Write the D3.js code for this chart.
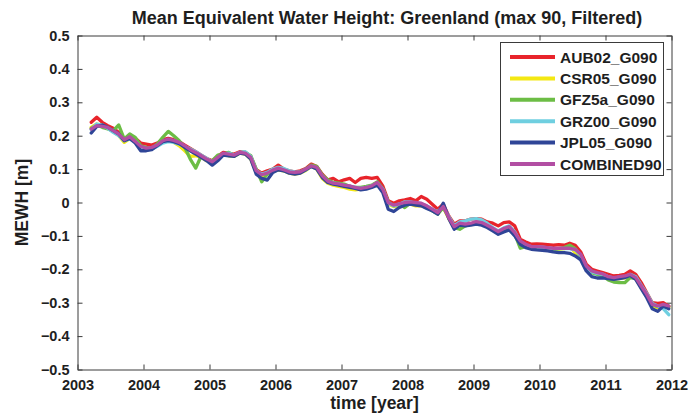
<!DOCTYPE html>
<html><head><meta charset="utf-8">
<script src="https://cdn.jsdelivr.net/npm/d3@7"></script>
<style>body{margin:0;background:#fff}svg{display:block}text{font-family:"Liberation Sans",Arial,sans-serif}</style>
</head><body><svg id="c" width="692" height="414"></svg>
<script>
const seriesNames = ["AUB02_G090","CSR05_G090","GFZ5a_G090","GRZ00_G090","JPL05_G090","COMBINED90"];
const seriesColors = ["#e8242b","#f4e812","#6cbd45","#6fcfe0","#2f4597","#b24ea3"];
// monthly values, Mar 2003 .. Dec 2011
const startYear = 2003, startMonth = 3;
const AUB02 = [0.240,0.255,0.240,0.230,0.222,0.210,0.190,0.200,0.192,0.178,
0.175,0.172,0.178,0.188,0.192,0.188,0.182,0.172,0.162,0.152,0.142,0.132,
0.125,0.138,0.150,0.147,0.145,0.152,0.150,0.138,0.098,0.088,0.095,0.100,
0.112,0.100,0.095,0.092,0.095,0.102,0.115,0.108,0.085,0.068,0.072,0.062,
0.068,0.072,0.060,0.072,0.075,0.072,0.075,0.050,0.005,-0.002,0.005,0.008,
0.012,0.005,0.018,0.010,-0.005,-0.020,-0.005,-0.040,-0.065,-0.055,-0.055,-0.050,
-0.048,-0.050,-0.058,-0.062,-0.070,-0.060,-0.058,-0.070,-0.110,-0.118,-0.125,-0.124,
-0.125,-0.126,-0.128,-0.126,-0.128,-0.122,-0.128,-0.148,-0.185,-0.200,-0.205,-0.210,
-0.215,-0.220,-0.218,-0.215,-0.205,-0.215,-0.240,-0.270,-0.300,-0.302,-0.300,-0.310];
const CSR05 = [0.225,0.235,0.230,0.222,0.212,0.200,0.180,0.192,0.185,0.160,
0.158,0.162,0.170,0.182,0.188,0.180,0.170,0.155,0.138,0.140,0.135,0.125,
0.120,0.132,0.145,0.140,0.138,0.148,0.145,0.130,0.090,0.080,0.085,0.092,
0.098,0.095,0.088,0.085,0.088,0.096,0.108,0.100,0.072,0.058,0.052,0.048,
0.045,0.040,0.038,0.040,0.042,0.048,0.055,0.035,-0.005,-0.012,-0.010,-0.005,
-0.005,-0.010,-0.010,-0.015,-0.022,-0.032,-0.015,-0.048,-0.075,-0.066,-0.068,-0.066,
-0.060,-0.062,-0.070,-0.080,-0.090,-0.082,-0.075,-0.092,-0.120,-0.130,-0.135,-0.135,
-0.136,-0.138,-0.140,-0.140,-0.138,-0.132,-0.150,-0.160,-0.195,-0.210,-0.212,-0.216,
-0.225,-0.228,-0.228,-0.226,-0.218,-0.228,-0.255,-0.280,-0.310,-0.315,-0.308,-0.315];
const GFZ5a = [0.222,0.232,0.225,0.220,0.215,0.232,0.190,0.205,0.195,0.170,
0.165,0.162,0.175,0.195,0.213,0.200,0.185,0.165,0.130,0.103,0.140,0.128,
0.125,0.142,0.145,0.150,0.140,0.148,0.150,0.140,0.100,0.062,0.085,0.095,
0.100,0.095,0.090,0.088,0.092,0.100,0.112,0.108,0.082,0.068,0.060,0.058,
0.055,0.048,0.045,0.045,0.048,0.052,0.062,0.042,0.002,-0.010,-0.005,-0.015,
-0.002,-0.005,-0.005,-0.015,-0.025,-0.035,-0.015,-0.045,-0.075,-0.080,-0.070,-0.065,
-0.060,-0.062,-0.070,-0.078,-0.088,-0.080,-0.075,-0.095,-0.137,-0.132,-0.135,-0.136,
-0.136,-0.138,-0.140,-0.138,-0.135,-0.128,-0.138,-0.160,-0.198,-0.210,-0.215,-0.220,
-0.232,-0.238,-0.240,-0.240,-0.225,-0.228,-0.252,-0.278,-0.305,-0.312,-0.306,-0.312];
const GRZ00 = [0.218,0.235,0.232,0.222,0.210,0.200,0.185,0.190,0.182,0.165,
0.160,0.160,0.168,0.178,0.182,0.180,0.175,0.168,0.160,0.152,0.142,0.132,
0.120,0.132,0.145,0.148,0.142,0.150,0.152,0.138,0.095,0.085,0.090,0.100,
0.105,0.102,0.095,0.092,0.090,0.098,0.108,0.102,0.078,0.062,0.058,0.055,
0.050,0.048,0.045,0.042,0.045,0.050,0.058,0.040,-0.002,-0.010,-0.005,0.002,
0.002,-0.002,-0.005,-0.010,-0.020,-0.028,-0.010,-0.042,-0.070,-0.058,-0.055,-0.050,
-0.048,-0.052,-0.062,-0.075,-0.085,-0.076,-0.070,-0.088,-0.118,-0.128,-0.132,-0.133,
-0.134,-0.136,-0.138,-0.138,-0.138,-0.138,-0.142,-0.158,-0.192,-0.208,-0.212,-0.215,
-0.222,-0.226,-0.224,-0.222,-0.215,-0.222,-0.248,-0.272,-0.302,-0.310,-0.318,-0.336];
const JPL05 = [0.208,0.228,0.232,0.225,0.215,0.205,0.185,0.192,0.178,0.155,
0.155,0.158,0.170,0.182,0.185,0.182,0.176,0.165,0.155,0.145,0.135,0.125,
0.112,0.125,0.142,0.140,0.138,0.148,0.145,0.130,0.085,0.072,0.067,0.090,
0.098,0.095,0.088,0.085,0.088,0.098,0.108,0.100,0.075,0.060,0.055,0.052,
0.048,0.045,0.042,0.038,0.040,0.045,0.052,0.030,-0.020,-0.027,-0.015,-0.008,
-0.005,-0.008,-0.010,-0.018,-0.025,-0.035,-0.002,-0.048,-0.080,-0.068,-0.070,-0.068,
-0.065,-0.068,-0.075,-0.085,-0.095,-0.088,-0.082,-0.100,-0.125,-0.135,-0.140,-0.142,
-0.143,-0.145,-0.148,-0.150,-0.150,-0.152,-0.160,-0.172,-0.205,-0.222,-0.226,-0.226,
-0.228,-0.230,-0.228,-0.225,-0.218,-0.230,-0.258,-0.285,-0.318,-0.326,-0.310,-0.318];
const COMBINED90 = [0.220,0.230,0.228,0.225,0.215,0.205,0.188,0.197,0.183,0.168,
0.163,0.165,0.172,0.185,0.190,0.186,0.180,0.170,0.158,0.150,0.140,0.130,
0.122,0.135,0.148,0.145,0.142,0.150,0.148,0.135,0.095,0.083,0.088,0.097,
0.103,0.098,0.092,0.090,0.092,0.100,0.110,0.105,0.080,0.064,0.058,0.056,
0.052,0.050,0.045,0.042,0.045,0.050,0.060,0.040,0.000,-0.008,-0.004,0.000,
0.002,0.000,-0.002,-0.010,-0.020,-0.030,-0.012,-0.045,-0.072,-0.062,-0.065,-0.062,
-0.057,-0.060,-0.068,-0.077,-0.087,-0.078,-0.072,-0.090,-0.115,-0.125,-0.132,-0.132,
-0.133,-0.135,-0.137,-0.137,-0.137,-0.137,-0.140,-0.155,-0.190,-0.205,-0.210,-0.214,
-0.222,-0.225,-0.222,-0.220,-0.215,-0.225,-0.250,-0.275,-0.305,-0.310,-0.305,-0.310];
const allSeries = [AUB02, CSR05, GFZ5a, GRZ00, JPL05, COMBINED90];
const xTicks = [2003,2004,2005,2006,2007,2008,2009,2010,2011,2012];
const yTicks = [-0.5,-0.4,-0.3,-0.2,-0.1,0,0.1,0.2,0.3,0.4,0.5];
const titleText = "Mean Equivalent Water Height: Greenland (max 90, Filtered)";
const xLabel = "time [year]", yLabel = "MEWH [m]";

const svg = d3.select("#c");
const L = 77.5, R = 671.5, T = 35.5, B = 369.5;
const x = d3.scaleLinear().domain([2003,2012]).range([L,R]);
const y = d3.scaleLinear().domain([-0.5,0.5]).range([B,T]);
const axCol = "#3a3a3a", txtCol = "#1e1e1e";

const g = svg.append("g");
g.append("rect").attr("x",L).attr("y",T).attr("width",R-L).attr("height",B-T).attr("fill","#fff");

const fmtY = v => v === 0 ? "0" : (v < 0 ? "\u2212" : "") + Math.abs(v).toFixed(1);
const tk = 5;
const axB = d3.axisBottom(x).tickValues(xTicks).tickFormat(d3.format("d")).tickSizeInner(-tk).tickSizeOuter(0).tickPadding(tk+5);
const axT = d3.axisTop(x).tickValues(xTicks).tickFormat("").tickSizeInner(-tk).tickSizeOuter(0);
const axL = d3.axisLeft(y).tickValues(yTicks).tickFormat(fmtY).tickSizeInner(-tk).tickSizeOuter(0).tickPadding(tk+3);
const axR = d3.axisRight(y).tickValues(yTicks).tickFormat("").tickSizeInner(-tk).tickSizeOuter(0);
function style(sel){
  sel.selectAll("path.domain").attr("stroke",axCol);
  sel.selectAll(".tick line").attr("stroke",axCol);
  sel.selectAll(".tick text").attr("fill",txtCol).style("font-size","14.5px").style("font-weight","bold").style("font-family","'Liberation Sans', Arial, sans-serif");
}
style(g.append("g").attr("transform",`translate(0,${B})`).call(axB));
style(g.append("g").attr("transform",`translate(0,${T})`).call(axT));
style(g.append("g").attr("transform",`translate(${L},0)`).call(axL));
style(g.append("g").attr("transform",`translate(${R},0)`).call(axR));

const line = d3.line().x((d,i)=>x(startYear + (startMonth - 1 + i + 0.5)/12)).y(d=>y(d));
allSeries.forEach((s,k)=>{
  g.append("path").datum(s).attr("d",line).attr("fill","none")
   .attr("stroke",seriesColors[k]).attr("stroke-width",3.3).attr("stroke-linejoin","round").attr("stroke-linecap","round");
});

svg.append("text").attr("x",387).attr("y",24).attr("text-anchor","middle").attr("fill",txtCol)
  .style("font-size","18px").style("font-weight","bold").text(titleText);
svg.append("text").attr("x",(L+R)/2).attr("y",409).attr("text-anchor","middle").attr("fill",txtCol)
  .style("font-size","17.5px").style("font-weight","bold").text(xLabel);
svg.append("text").attr("transform",`translate(28,${(T+B)/2}) rotate(-90)`).attr("text-anchor","middle").attr("fill",txtCol)
  .style("font-size","17.5px").style("font-weight","bold").text(yLabel);

// legend
const lg = svg.append("g");
lg.append("rect").attr("x",500.5).attr("y",42.5).attr("width",163).attr("height",133).attr("fill","#fff").attr("stroke",axCol);
seriesNames.forEach((n,k)=>{
  const yy = 57 + k*21.4;
  lg.append("line").attr("x1",510).attr("x2",555).attr("y1",yy).attr("y2",yy).attr("stroke",seriesColors[k]).attr("stroke-width",4);
  lg.append("text").attr("x",560).attr("y",yy+5.5).attr("fill",txtCol).style("font-size","15.5px").style("font-weight","bold").text(n);
});
</script></body></html>
